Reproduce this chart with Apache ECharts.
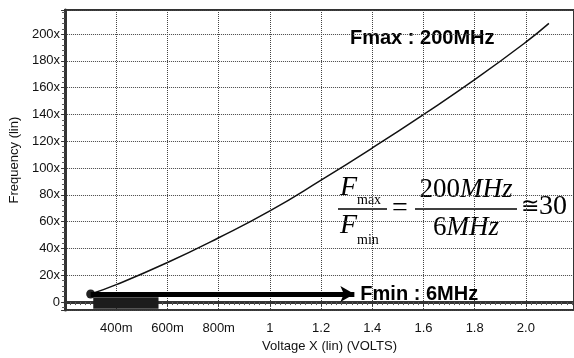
<!DOCTYPE html>
<html>
<head>
<meta charset="utf-8">
<script src="https://cdn.jsdelivr.net/npm/echarts@6/dist/echarts.min.js"></script>
<style>
  html, body { margin: 0; padding: 0; background: #fff; }
  #chart { width: 574px; height: 358px; }
</style>
</head>
<body>
<div id="chart"></div>
<script>
// voltage (V) and frequency (MHz)
const voltage = [0.3, 0.4, 0.6, 0.8, 1.0, 1.2, 1.4, 1.6, 1.8, 2.0, 2.09]
const frequency = [6, 13, 29.5, 48, 68, 91, 115, 140, 166, 194, 208]

// Fmin arrow runs from the start point to here
const fminArrowEnd = 1.33
const fminValue = 6
// dark block under the arrow start
const blockX = [0.31, 0.565]
const blockY = [-5, 3.5]

const xRange = [0.2, 2.188]
const yRange = [-6, 218]

const fmtX = (v) => {
  if (v < 0.999) return Math.round(v * 1000) + 'm'
  if (Math.abs(v - 1) < 1e-6) return '1'
  return v.toFixed(1)
}
const fmtY = (v) => (v === 0 ? '0' : v + 'x')

const chart = echarts.init(document.getElementById('chart'))

const labelFont = { color: '#111', fontSize: 13, fontFamily: 'Liberation Sans, Arial, sans-serif' }

const lineData = voltage.map((v, i) => {
  if (i === 0) return { value: [v, frequency[i]], symbol: 'circle', symbolSize: 9 }
  return [v, frequency[i]]
})

chart.setOption({
  animation: false,
  backgroundColor: '#fff',
  grid: {
    left: 63,
    right: -6,
    top: 10,
    bottom: 47,
    show: true,
    borderColor: '#333',
    borderWidth: 2
  },
  xAxis: {
    type: 'value',
    min: xRange[0],
    max: xRange[1],
    interval: 0.2,
    name: 'Voltage X (lin) (VOLTS)',
    nameLocation: 'middle',
    nameGap: 21,
    nameTextStyle: { ...labelFont, padding: [0, 0, 0, 20] },
    axisLine: { show: true, lineStyle: { color: '#333', width: 3 } },
    axisTick: { show: true, length: 4, lineStyle: { color: '#333' } },
    minorTick: { show: true, splitNumber: 10, length: 3, lineStyle: { color: '#555' } },
    axisLabel: { ...labelFont, margin: 12, showMinLabel: false, showMaxLabel: false, formatter: fmtX },
    splitLine: { show: true, lineStyle: { color: '#444', type: 'dotted', width: 1 } }
  },
  yAxis: {
    type: 'value',
    min: yRange[0],
    max: yRange[1],
    splitNumber: 11,
    name: 'Frequency (lin)',
    nameLocation: 'middle',
    nameGap: 44,
    nameTextStyle: { ...labelFont },
    axisLine: { show: true, lineStyle: { color: '#333', width: 3 } },
    axisTick: { show: true, length: 4, lineStyle: { color: '#333' } },
    minorTick: { show: true, splitNumber: 5, length: 3, lineStyle: { color: '#555' } },
    axisLabel: { ...labelFont, margin: 5, showMinLabel: false, showMaxLabel: false, formatter: fmtY },
    splitLine: { show: true, lineStyle: { color: '#444', type: 'dotted', width: 1 } }
  },
  series: [
    {
      type: 'line',
      data: lineData,
      symbol: 'none',
      smooth: true,
      lineStyle: { color: '#111', width: 1.5 },
      itemStyle: { color: '#222' },
      markLine: {
        silent: true,
        symbol: ['none', 'arrow'],
        symbolSize: [12, 14],
        lineStyle: { color: '#000', width: 5, type: 'solid' },
        label: {
          show: true,
          position: 'end',
          distance: 6,
          formatter: 'Fmin : 6MHz',
          color: '#000',
          fontSize: 20,
          fontWeight: 'bold',
          fontFamily: 'Liberation Sans, Arial, sans-serif'
        },
        data: [[{ coord: [voltage[0], fminValue] }, { coord: [fminArrowEnd, fminValue] }]]
      },
      markArea: {
        silent: true,
        itemStyle: { color: '#1c1c1c' },
        data: [[{ coord: [blockX[0], blockY[1]] }, { coord: [blockX[1], blockY[0]] }]]
      }
    }
  ],
  graphic: [
    {
      type: 'text', x: 350, y: 38,
      style: { text: 'Fmax : 200MHz', font: 'bold 20px "Liberation Sans", Arial', fill: '#000', textVerticalAlign: 'middle' }
    },
    // Fmax / Fmin
    {
      type: 'text', x: 340, y: 202,
      style: { text: 'F', font: 'italic 28px "Liberation Serif", serif', fill: '#000', textVerticalAlign: 'bottom' }
    },
    {
      type: 'text', x: 357, y: 207,
      style: { text: 'max', font: '14px "Liberation Serif", serif', fill: '#000', textVerticalAlign: 'bottom' }
    },
    { type: 'line', shape: { x1: 338, y1: 209, x2: 387, y2: 209 }, style: { stroke: '#000', lineWidth: 1.5 } },
    {
      type: 'text', x: 340, y: 240,
      style: { text: 'F', font: 'italic 28px "Liberation Serif", serif', fill: '#000', textVerticalAlign: 'bottom' }
    },
    {
      type: 'text', x: 357, y: 247,
      style: { text: 'min', font: '14px "Liberation Serif", serif', fill: '#000', textVerticalAlign: 'bottom' }
    },
    {
      type: 'text', x: 400, y: 209,
      style: { text: '=', font: '28px "Liberation Serif", serif', fill: '#000', textAlign: 'center', textVerticalAlign: 'middle' }
    },
    {
      type: 'text', x: 466, y: 203,
      style: {
        text: '{n|200}{u|MHz}', fill: '#000', textAlign: 'center', textVerticalAlign: 'bottom',
        rich: {
          n: { font: '27px "Liberation Serif", serif' },
          u: { font: 'italic 27px "Liberation Serif", serif' }
        }
      }
    },
    { type: 'line', shape: { x1: 415, y1: 209, x2: 517, y2: 209 }, style: { stroke: '#000', lineWidth: 1.5 } },
    {
      type: 'text', x: 466, y: 241,
      style: {
        text: '{n|6}{u|MHz}', fill: '#000', textAlign: 'center', textVerticalAlign: 'bottom',
        rich: {
          n: { font: '27px "Liberation Serif", serif' },
          u: { font: 'italic 27px "Liberation Serif", serif' }
        }
      }
    },
    {
      type: 'text', x: 521, y: 207,
      style: {
        text: '{s|≅}{n|30}', fill: '#000', textVerticalAlign: 'middle',
        rich: {
          s: { font: '22px "DejaVu Serif", serif' },
          n: { font: '28px "Liberation Serif", serif' }
        }
      }
    }
  ]
})
</script>
</body>
</html>
